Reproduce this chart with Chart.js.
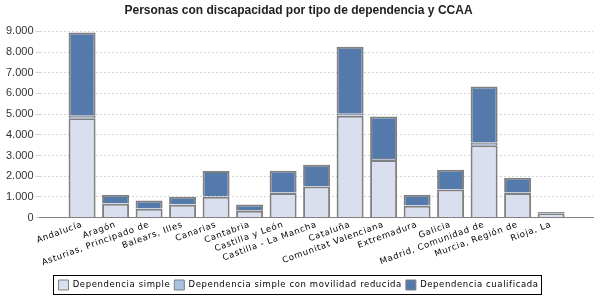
<!DOCTYPE html>
<html><head><meta charset="utf-8">
<script src="https://cdn.jsdelivr.net/npm/chart.js@4/dist/chart.umd.min.js"></script>
<style>html,body{margin:0;padding:0;background:#fff}#wrap{width:600px;height:300px}</style>
</head><body><div id="wrap"><canvas id="c"></canvas></div>
<script>
const categories = ["Andalucía","Aragón","Asturias, Principado de","Balears, Illes","Canarias","Cantabria","Castilla y León","Castilla - La Mancha","Cataluña","Comunitat Valenciana","Extremadura","Galicia","Madrid, Comunidad de","Murcia, Región de","Rioja, La"];
const simple =      [4800, 670, 420, 620, 1000, 330, 1180, 1500, 4920, 2780, 570, 1350, 3500, 1190, 190];
const movilidad =   [ 150,  20,  20,  20,   30,  30,   30,   20,  100,  100,  10,   30,  130,   15,  10];
const cualificada = [4000, 410, 380, 360, 1220, 270, 1050, 1030, 3240, 2000, 520,  930, 2710,  720,  70];
const seriesNames = ["Dependencia simple","Dependencia simple con movilidad reducida","Dependencia cualificada"];
const yTicks = [0,1000,2000,3000,4000,5000,6000,7000,8000,9000];

const fmt = v => String(v).replace(/\B(?=(\d{3})+(?!\d))/g, ".");
const toXY = arr => arr.map((v,i)=>({x:i,y:v}));

function wrapLS(obj, name, ls){
  const orig = obj[name];
  obj[name] = function(...a){
    const ctx = this.ctx; const prev = ctx.letterSpacing;
    ctx.letterSpacing = ls;
    try { return orig.apply(this, a); } finally { ctx.letterSpacing = prev; }
  };
}

const spacing = {
  id:'spacing',
  afterInit(chart){
    if(chart.legend && !chart.legend._ls){ wrapLS(chart.legend,'fit','0.6px'); wrapLS(chart.legend,'draw','0.6px'); chart.legend._ls=true; }
  },
  beforeLayout(chart){
    const s = chart.scales.x;
    if(s && !s._ls){ wrapLS(s,'update','0.7px'); wrapLS(s,'drawLabels','0.7px'); s._ls=true; }
  }
};

const legendBox = {
  id:'legendBox',
  afterDraw(chart){
    const hb = chart.legend.legendHitBoxes;
    if(!hb || !hb.length) return;
    let l=Infinity,r=-Infinity,t=Infinity,b=-Infinity;
    hb.forEach(h=>{l=Math.min(l,h.left);r=Math.max(r,h.left+h.width);t=Math.min(t,h.top);b=Math.max(b,h.top+h.height);});
    const ctx=chart.ctx; ctx.save(); ctx.strokeStyle='#000'; ctx.lineWidth=1;
    ctx.strokeRect(Math.round(l-5)+0.5, Math.round(t-5)+0.5, Math.round(r-l+8), Math.round(b-t+9));
    ctx.restore();
  }
};

new Chart(document.getElementById('c'), {
  type:'bar',
  data:{
    datasets:[
      {label:seriesNames[0], data:toXY(simple), backgroundColor:'#d9dfef', borderColor:'#808080', borderWidth:2},
      {label:seriesNames[1], data:toXY(movilidad), backgroundColor:'#a9c0de', borderColor:'#808080', borderWidth:2},
      {label:seriesNames[2], data:toXY(cualificada), backgroundColor:'#5479ab', borderColor:'#808080', borderWidth:2}
    ]
  },
  options:{
    responsive:true, maintainAspectRatio:false, animation:false,
    layout:{padding:{left:4,right:7,top:0,bottom:0}},
    datasets:{bar:{barThickness:27, inflateAmount:0}},
    plugins:{
      title:{display:true, text:'Personas con discapacidad por tipo de dependencia y CCAA', color:'#222', font:{family:'Liberation Sans', size:12, weight:'bold'}, padding:{top:3,bottom:14}},
      legend:{position:'bottom', labels:{color:'#000', font:{family:'DejaVu Sans', size:8.5}, boxWidth:10, boxHeight:10, padding:4,
        generateLabels(chart){
          return chart.data.datasets.map((d,i)=>({text:d.label, fillStyle:d.backgroundColor, strokeStyle:'#808080', lineWidth:1, datasetIndex:i}));
        }}},
      tooltip:{enabled:false}
    },
    scales:{
      x:{type:'linear', stacked:true, offset:false, min:-1.27, max:15.25,
        afterBuildTicks(axis){ axis.ticks = categories.map((_,i)=>({value:i})); },
        afterFit(axis){ axis.height += 6; },
        ticks:{autoSkip:false, minRotation:20, maxRotation:20, padding:2, color:'#000', font:{family:'DejaVu Sans', size:8.5}, callback:(v)=>categories[v]},
        grid:{display:false, drawTicks:false},
        border:{display:true, color:'#808080', width:1}
      },
      y:{stacked:true, min:0, max:9000,
        afterBuildTicks(axis){ axis.ticks = yTicks.map(v=>({value:v})); },
        ticks:{color:'#333', font:{family:'Liberation Sans', size:11}, padding:2, callback:v=>fmt(v)},
        grid:{color:'#d4d4d4', lineWidth:1, tickLength:4, drawTicks:true},
        border:{display:false, dash:[2,2]}
      }
    }
  },
  plugins:[spacing, legendBox]
});
</script></body></html>
